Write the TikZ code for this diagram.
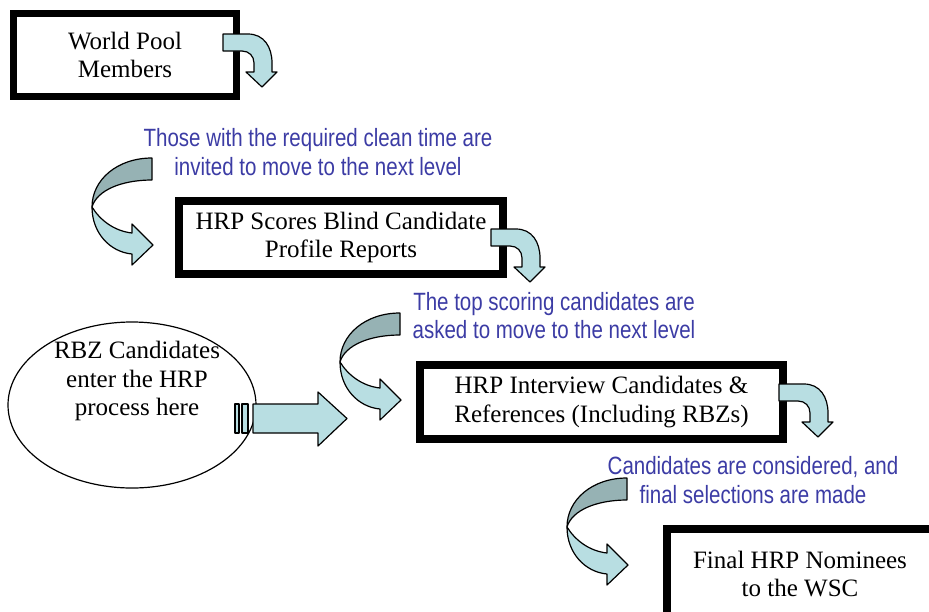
\documentclass[tikz,border=0pt]{standalone}
\usepackage{fontspec}
\setmainfont{Liberation Serif}
\newfontfamily\narrowsans[FakeStretch=0.82]{Liberation Sans}
\usetikzlibrary{shapes.geometric}
\definecolor{lightcyan}{RGB}{184,222,226}
\definecolor{darkteal}{RGB}{150,178,180}
\definecolor{noteblue}{RGB}{60,60,165}
\tikzset{
  stepbox/.style={draw=black, line width=8pt, fill=white, align=center, inner sep=0pt,
    font=\fontsize{25}{28.5}\selectfont},
  note/.style={text=noteblue, align=center, inner sep=0pt,
    font=\narrowsans\fontsize{25}{28.5}\selectfont},
  outl/.style={draw=black, line width=1.2pt, line join=round},
  bentarrow/.pic={
    \path[outl, fill=lightcyan] (-39,-53) -- (-14,-53)
      .. controls (2,-53) and (10,-40) .. (10,-24) -- (10,-15) -- (15,-15)
      -- (0,0) -- (-16,-15) -- (-8,-15) -- (-8,-24)
      .. controls (-8,-31) and (-13,-36) .. (-20,-36) -- (-39,-36) -- cycle;
  },
  curvedarrow/.pic={
    \path[outl, fill=darkteal] (0,0) .. controls (-35,0) and (-60,22) .. (-60,49)
      .. controls (-55,32) and (-30,22) .. (0,22) -- cycle;
    \path[outl, fill=lightcyan] (-60,49) .. controls (-60,75) and (-42,94) .. (-20,96)
      -- (-20,107) -- (1,87) -- (-20,66) -- (-20,75)
      .. controls (-38,73) and (-52,62) .. (-60,49) -- cycle;
  }
}
\begin{document}
\begin{tikzpicture}[x=1pt,y=-1pt]
\useasboundingbox (0,0) rectangle (929,611);
\fill[white] (0,0) rectangle (929,611);
\clip (0,0) rectangle (929,611);

% boxes
\node[stepbox, line width=7pt, minimum width=223pt, minimum height=83pt] (pool) at (125,55) {World Pool\\Members};
\node[stepbox, minimum width=324pt, minimum height=73pt] (score) at (341,237.5) {HRP Scores Blind Candidate\\Profile Reports};
\node[stepbox, minimum width=363pt, minimum height=74pt] (interview) at (601.5,402) {HRP Interview Candidates \&\\References (Including RBZs)};
\node[stepbox, minimum width=300pt, minimum height=96pt] (final) at (817,577) {};
\node[align=center, inner sep=0pt, font=\fontsize{25}{28.5}\selectfont] (finaltext) at (800,574) {Final HRP Nominees\\to the WSC};

% ellipse
\node[draw=black, line width=1.2pt, ellipse, minimum width=248pt, minimum height=166pt, inner sep=0pt] (rbz) at (132,405) {};
\node[align=center, inner sep=0pt, font=\fontsize{25}{28.5}\selectfont] (rbztext) at (137,381) {RBZ Candidates\\enter the HRP\\process here};

% notes
\node[note] (n1) at (318,152) {Those with the required clean time are\\invited to move to the next level};
\node[note] (n2) at (554,315.5) {The top scoring candidates are\\asked to move to the next level};
\node[note] (n3) at (753,480) {Candidates are considered, and\\final selections are made};

% small bent arrows
\coordinate (b1) at (262,87);
\coordinate (b2) at (530,282);
\coordinate (b3) at (818,437);
\pic at (b1) {bentarrow};
\pic at (b2) {bentarrow};
\pic at (b3) {bentarrow};

% big curved arrows
\coordinate (c1) at (152,158);
\coordinate (c2) at (400,313);
\coordinate (c3) at (627,478);
\pic at (c1) {curvedarrow};
\pic at (c2) {curvedarrow};
\pic at (c3) {curvedarrow};

% striped arrow
\path[outl, fill=lightcyan] (235,404) rectangle (239,433);
\path[outl, fill=lightcyan] (242,404) rectangle (248,433);
\path[outl, fill=lightcyan] (253,404) -- (318,404) -- (318,392) -- (347,418.5)
  -- (318,446) -- (318,433) -- (253,433) -- cycle;
\end{tikzpicture}
\end{document}
